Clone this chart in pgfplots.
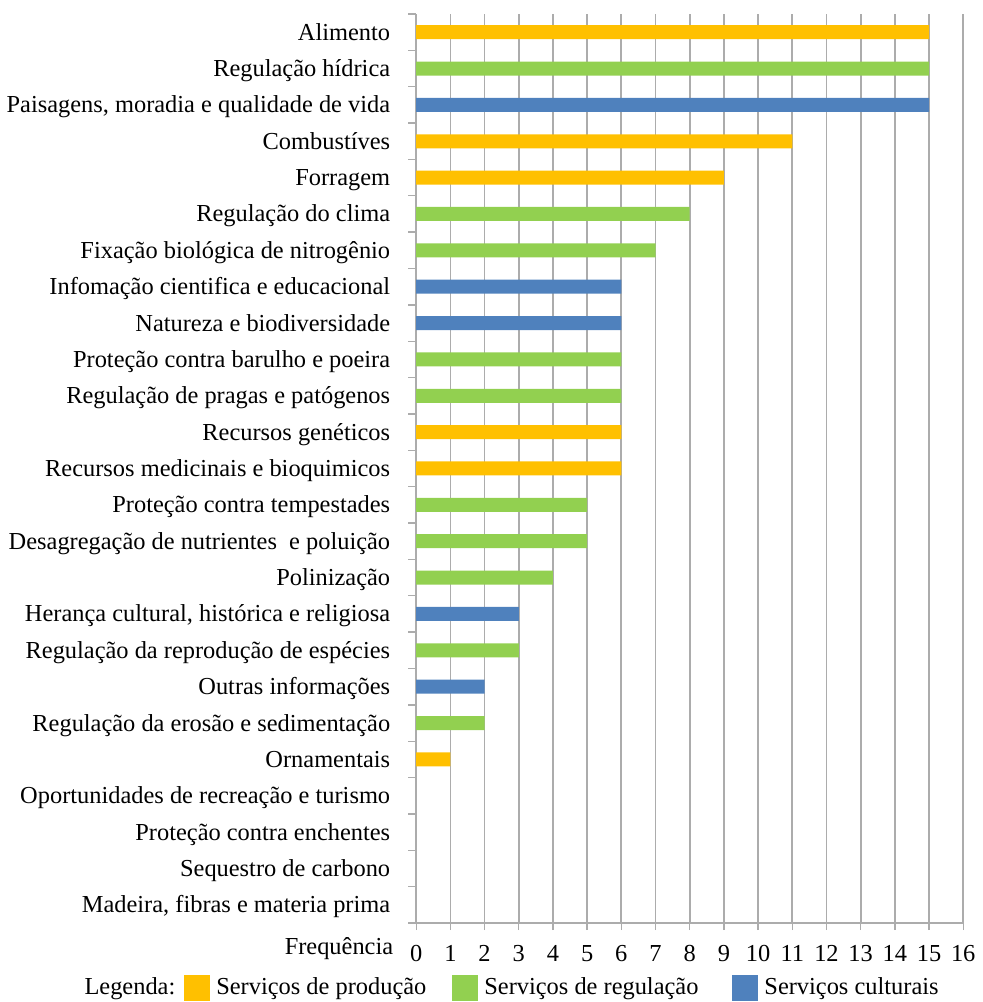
\documentclass[border=0pt]{standalone}
\usepackage{fontspec}
\setmainfont{Liberation Serif}
\usepackage{pgfplots}
\pgfplotsset{compat=1.18}
\definecolor{cprod}{HTML}{FFC000}
\definecolor{creg}{HTML}{92D050}
\definecolor{ccult}{HTML}{4F81BD}
\definecolor{cgrid}{HTML}{ACACAC}
\begin{document}
\begin{tikzpicture}
\begin{axis}[
  scale only axis,
  width=273.5pt, height=454.5pt,
  font=\fontsize{12.2pt}{14pt}\selectfont,
  xmin=0, xmax=16,
  ymin=-0.5, ymax=24.5,
  axis x line*=bottom, axis y line*=left,
  axis line style={cgrid, line width=0.9pt, -},
  xtick={0,1,...,16},
  xmajorgrids, grid style={cgrid, line width=0.9pt},
  tick align=outside,
  major tick length=3.5pt,
  xtick style={cgrid, line width=0.7pt},
  xticklabel style={yshift=-4pt},
  /pgf/number format/assume math mode=true,
  ytick={0,...,24},
  yticklabels={{Madeira, fibras e materia prima},{Sequestro de carbono},{Proteção contra enchentes},{Oportunidades de recreação e turismo},{Ornamentais},{Regulação da erosão e sedimentação},{Outras informações},{Regulação da reprodução de espécies},{Herança cultural, histórica e religiosa},{Polinização},{Desagregação de nutrientes\ \ e poluição},{Proteção contra tempestades},{Recursos medicinais e bioquimicos},{Recursos genéticos},{Regulação de pragas e patógenos},{Proteção contra barulho e poeira},{Natureza e biodiversidade},{Infomação cientifica e educacional},{Fixação biológica de nitrogênio},{Regulação do clima},{Forragem},{Combustíves},{Paisagens, moradia e qualidade de vida},{Regulação hídrica},{Alimento}},
  ytick style={draw=none},
  yticklabel style={anchor=base east, xshift=-6pt, yshift=-4pt},
  extra y ticks={-0.5,0.5,...,24.5},
  extra y tick labels={},
  extra y tick style={ytick style={draw=cgrid, line width=0.7pt}, major tick length=4pt},
  clip=false,
  legend columns=4,
  legend style={at={(axis description cs:-0.629,-0.0715)}, anchor=west, draw=none, fill=none, overlay,
    font=\fontsize{12.2pt}{14pt}\selectfont,
    /tikz/every odd column/.append style={column sep=1pt},
    /tikz/column 2/.style={column sep=2.5pt},
    /tikz/column 4/.style={column sep=11pt},
    /tikz/column 6/.style={column sep=15pt}},
  legend image code/.code={\fill[#1] (0pt,-6.5pt) rectangle (13pt,6.5pt);},
]
\addlegendimage{empty legend}
\addlegendentry{Legenda:}
\addplot[xbar, bar width=7pt, bar shift=0pt, fill=cprod, draw=none] coordinates {
 (15,24) (11,21) (9,20) (6,13) (6,12) (1,4)};
\addlegendentry{Serviços de produção}
\addplot[xbar, bar width=7pt, bar shift=0pt, fill=creg, draw=none] coordinates {
 (15,23) (8,19) (7,18) (6,15) (6,14) (5,11) (5,10) (4,9) (3,7) (2,5)};
\addlegendentry{Serviços de regulação}
\addplot[xbar, bar width=7pt, bar shift=0pt, fill=ccult, draw=none] coordinates {
 (15,22) (6,17) (6,16) (3,8) (2,6)};
\addlegendentry{Serviços culturais}
\node[anchor=base east] at ([xshift=-8pt,yshift=-15.5pt]rel axis cs:0,0) {Frequência};
\path ([xshift=-207.5pt,yshift=-39.5pt]rel axis cs:0,0) rectangle ([xshift=7.5pt,yshift=7pt]rel axis cs:1,1);
\end{axis}
\end{tikzpicture}
\end{document}
